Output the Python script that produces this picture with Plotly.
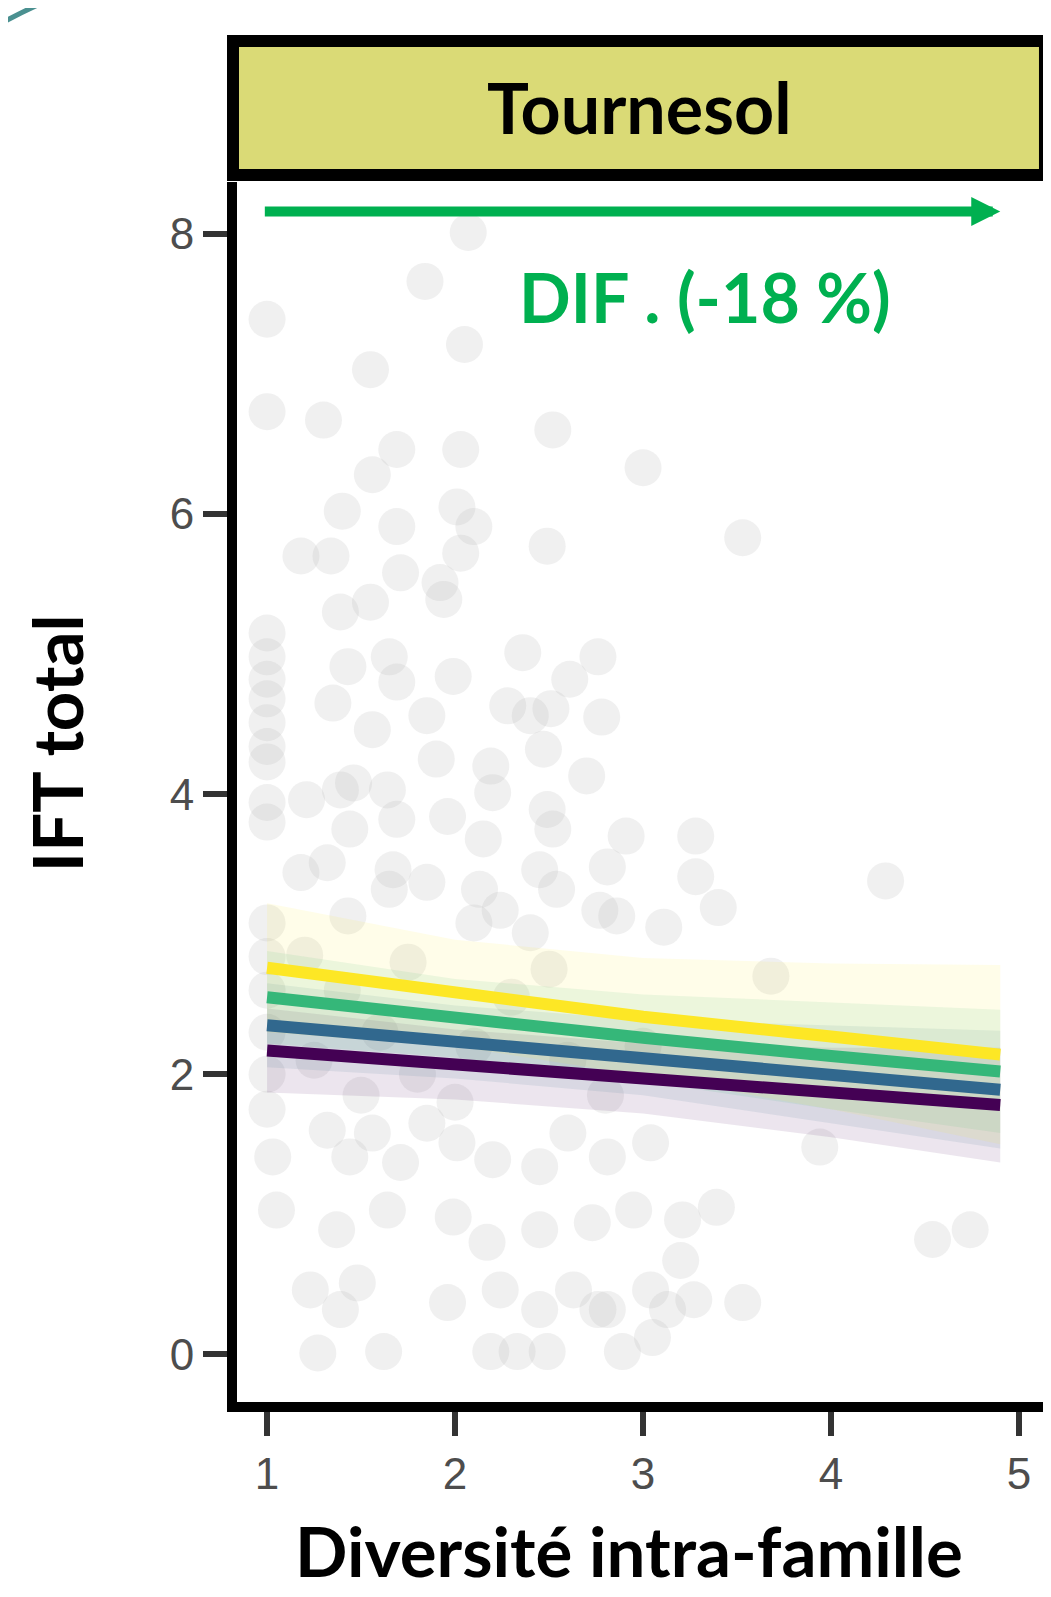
import plotly.graph_objects as go

div_obs = [2.07, 1.84, 1.00, 2.05, 1.55, 1.00, 1.30, 2.52, 3.00, 1.69, 2.03, 1.56, 1.40, 1.69, 2.01,
           2.10, 2.49, 1.18, 1.34, 2.03, 1.71, 1.92, 3.53,
           1.00, 1.00, 1.00, 1.00, 1.00, 1.00, 1.00, 1.00, 1.00, 1.00, 1.00,
           1.39, 1.55, 1.94, 1.43, 1.65, 1.69, 1.99, 2.36, 2.76, 2.61,
           1.35, 1.56, 1.85, 2.28, 2.40, 2.51, 2.78, 2.47,
           1.90, 2.19, 2.70, 1.46, 1.39, 1.64, 2.20, 1.21,
           1.69, 1.96, 2.49, 2.15, 2.52, 2.91, 1.44, 1.32,
           1.67, 1.65, 1.85, 2.45, 2.81, 2.13, 2.54, 1.18, 2.86, 2.77,
           1.43, 2.24, 2.10, 2.40, 3.28, 3.28, 3.40, 4.29, 3.11, 3.68,
           1.00, 1.00, 1.00, 1.00, 1.25, 1.40, 1.60, 1.80, 2.10, 2.30, 2.60, 2.80, 3.00, 1.50, 2.00,
           2.50, 1.20, 1.75,
           1.03, 1.32, 1.56, 1.85, 2.01, 2.20, 2.45, 2.60, 2.81, 1.44, 1.71,
           1.05, 1.37, 1.64, 1.99, 2.17, 2.45, 2.73, 2.95,
           1.48, 1.23, 1.96, 2.24, 2.45, 2.63, 2.81, 1.39, 2.76, 3.13,
           1.27, 1.62, 2.19, 2.33, 2.49, 2.89,
           3.94, 3.39, 3.21, 3.20, 3.53, 3.27, 3.04, 3.05, 4.54, 4.74, 3.04]
ift_obs = [8.01, 7.66, 7.39, 7.21, 7.03, 6.73, 6.67, 6.60, 6.33, 6.46, 6.46, 6.28, 6.02, 5.91, 6.05,
           5.91, 5.77, 5.70, 5.70, 5.72, 5.58, 5.51, 5.83,
           5.15, 4.98, 4.82, 4.68, 4.51, 4.34, 4.23, 3.94, 3.80, 3.08, 2.84,
           5.30, 5.37, 5.39, 4.91, 4.98, 4.80, 4.84, 5.01, 4.98, 4.82,
           4.65, 4.46, 4.56, 4.63, 4.56, 4.61, 4.55, 4.32,
           4.25, 4.20, 4.13, 4.08, 4.03, 4.03, 4.01, 3.96,
           3.82, 3.84, 3.89, 3.68, 3.75, 3.70, 3.75, 3.51,
           3.46, 3.32, 3.37, 3.46, 3.48, 3.32, 3.32, 3.44, 3.13, 3.17,
           3.13, 3.17, 3.08, 3.01, 3.70, 3.41, 3.19, 3.38, 3.05, 2.70,
           2.60, 2.30, 2.00, 1.75, 2.10, 2.60, 2.30, 2.00, 2.20, 2.55, 2.10, 1.85, 2.20, 1.85, 1.80,
           2.75, 2.85, 2.80,
           1.41, 1.60, 1.58, 1.65, 1.51, 1.39, 1.34, 1.58, 1.41, 1.41, 1.37,
           1.03, 0.89, 1.03, 0.98, 0.80, 0.89, 0.94, 1.03,
           0.51, 0.46, 0.37, 0.46, 0.32, 0.46, 0.32, 0.32, 0.32, 0.32,
           0.01, 0.02, 0.02, 0.02, 0.02, 0.02,
           1.48, 1.05, 0.96, 0.67, 0.37, 0.39, 0.46, 0.12, 0.82, 0.89, 1.51]

# fitted curves and confidence bands
div_fit = [1.0, 2.0, 3.0, 4.0, 4.9]
fit_y = [2.76, 2.58, 2.41, 2.27, 2.14]
lo_y = [2.30, 2.20, 1.99, 1.75, 1.50]
hi_y = [3.22, 2.96, 2.83, 2.79, 2.78]
fit_g = [2.55, 2.40, 2.26, 2.13, 2.02]
lo_g = [2.22, 2.12, 1.95, 1.75, 1.58]
hi_g = [2.88, 2.68, 2.57, 2.51, 2.46]
fit_b = [2.35, 2.23, 2.12, 2.00, 1.89]
lo_b = [2.05, 1.97, 1.85, 1.65, 1.47]
hi_b = [2.65, 2.49, 2.39, 2.35, 2.31]
fit_p = [2.17, 2.07, 1.97, 1.87, 1.78]
lo_p = [1.87, 1.82, 1.72, 1.55, 1.37]
hi_p = [2.47, 2.32, 2.22, 2.19, 2.19]

x_ticks = [1, 2, 3, 4, 5]
y_ticks = [0, 2, 4, 6, 8]

GREEN = "#00B050"
BOLD_FONT = "Lato"

series = [
    ("#440154", (68, 1, 84), fit_p, lo_p, hi_p),
    ("#31688E", (49, 104, 142), fit_b, lo_b, hi_b),
    ("#35B779", (53, 183, 121), fit_g, lo_g, hi_g),
    ("#FDE725", (253, 231, 37), fit_y, lo_y, hi_y),
]

fig = go.Figure()
fig.add_trace(go.Scatter(x=div_obs, y=ift_obs, mode="markers",
                         marker=dict(size=37, color="#B4B4B4", opacity=0.2, line=dict(width=0)),
                         showlegend=False, hoverinfo="skip"))

for col, rgb, fit, lo, hi in series:
    fig.add_trace(go.Scatter(x=div_fit + div_fit[::-1], y=hi + lo[::-1], fill="toself",
                             fillcolor="rgba(%d,%d,%d,0.1)" % rgb, line=dict(width=0),
                             mode="lines", showlegend=False, hoverinfo="skip"))
for col, rgb, fit, lo, hi in series:
    fig.add_trace(go.Scatter(x=div_fit, y=fit, mode="lines", line=dict(color=col, width=12),
                             showlegend=False))

# strip box
fig.add_shape(type="rect", xref="paper", yref="paper", x0=-0.0049, x1=0.9926, y0=1.0057, y1=1.1156,
              line=dict(color="black", width=12), fillcolor="#DADA76", layer="above")
# decorative arc in the corner
fig.add_shape(type="path", xref="paper", yref="paper",
              path="M -0.2973,1.1270 Q -0.2617,1.1410 -0.2187,1.1525",
              line=dict(color="#4A9090", width=5))

fig.add_annotation(x=0.495, y=1.0615, xref="paper", yref="paper", text="Tournesol", showarrow=False,
                   xanchor="center", yanchor="middle",
                   font=dict(family=BOLD_FONT, size=70, color="black", weight=700))
fig.add_annotation(x=4.90, y=8.16, ax=0.98, ay=8.16, xref="x", yref="y", axref="x", ayref="y",
                   text="", showarrow=True, arrowhead=2, arrowsize=0.58, arrowwidth=10, arrowcolor=GREEN)
fig.add_annotation(x=3.33, y=7.55, xref="x", yref="y", text="DIF . (-18 %)", showarrow=False,
                   xanchor="center", yanchor="middle",
                   font=dict(family=BOLD_FONT, size=68, color=GREEN, weight=700))
fig.add_annotation(x=-0.2224, y=0.540, xref="paper", yref="paper", text="IFT total", showarrow=False,
                   xanchor="center", yanchor="middle", textangle=-90,
                   font=dict(family=BOLD_FONT, size=69, color="black", weight=700))
fig.add_annotation(x=0.4816, y=-0.1221, xref="paper", yref="paper", text="Diversité intra-famille",
                   showarrow=False, xanchor="center", yanchor="middle",
                   font=dict(family=BOLD_FONT, size=69, color="black", weight=700))

fig.update_layout(
    width=1043, height=1589,
    margin=dict(l=229, r=0, t=174, b=195),
    paper_bgcolor="white", plot_bgcolor="white",
    xaxis=dict(range=[0.84, 5.17], tickvals=x_ticks, ticks="outside", ticklen=24, tickwidth=6,
               tickcolor="#333333", showline=True, linecolor="black", linewidth=10,
               showgrid=False, zeroline=False,
               tickfont=dict(family="Liberation Sans", size=44, color="#4D4D4D")),
    yaxis=dict(range=[-0.34, 8.37], tickvals=y_ticks, ticks="outside", ticklen=24, tickwidth=6,
               tickcolor="#333333", showline=True, linecolor="black", linewidth=10,
               showgrid=False, zeroline=False,
               tickfont=dict(family="Liberation Sans", size=44, color="#4D4D4D")),
)

fig.write_html("out.html")
